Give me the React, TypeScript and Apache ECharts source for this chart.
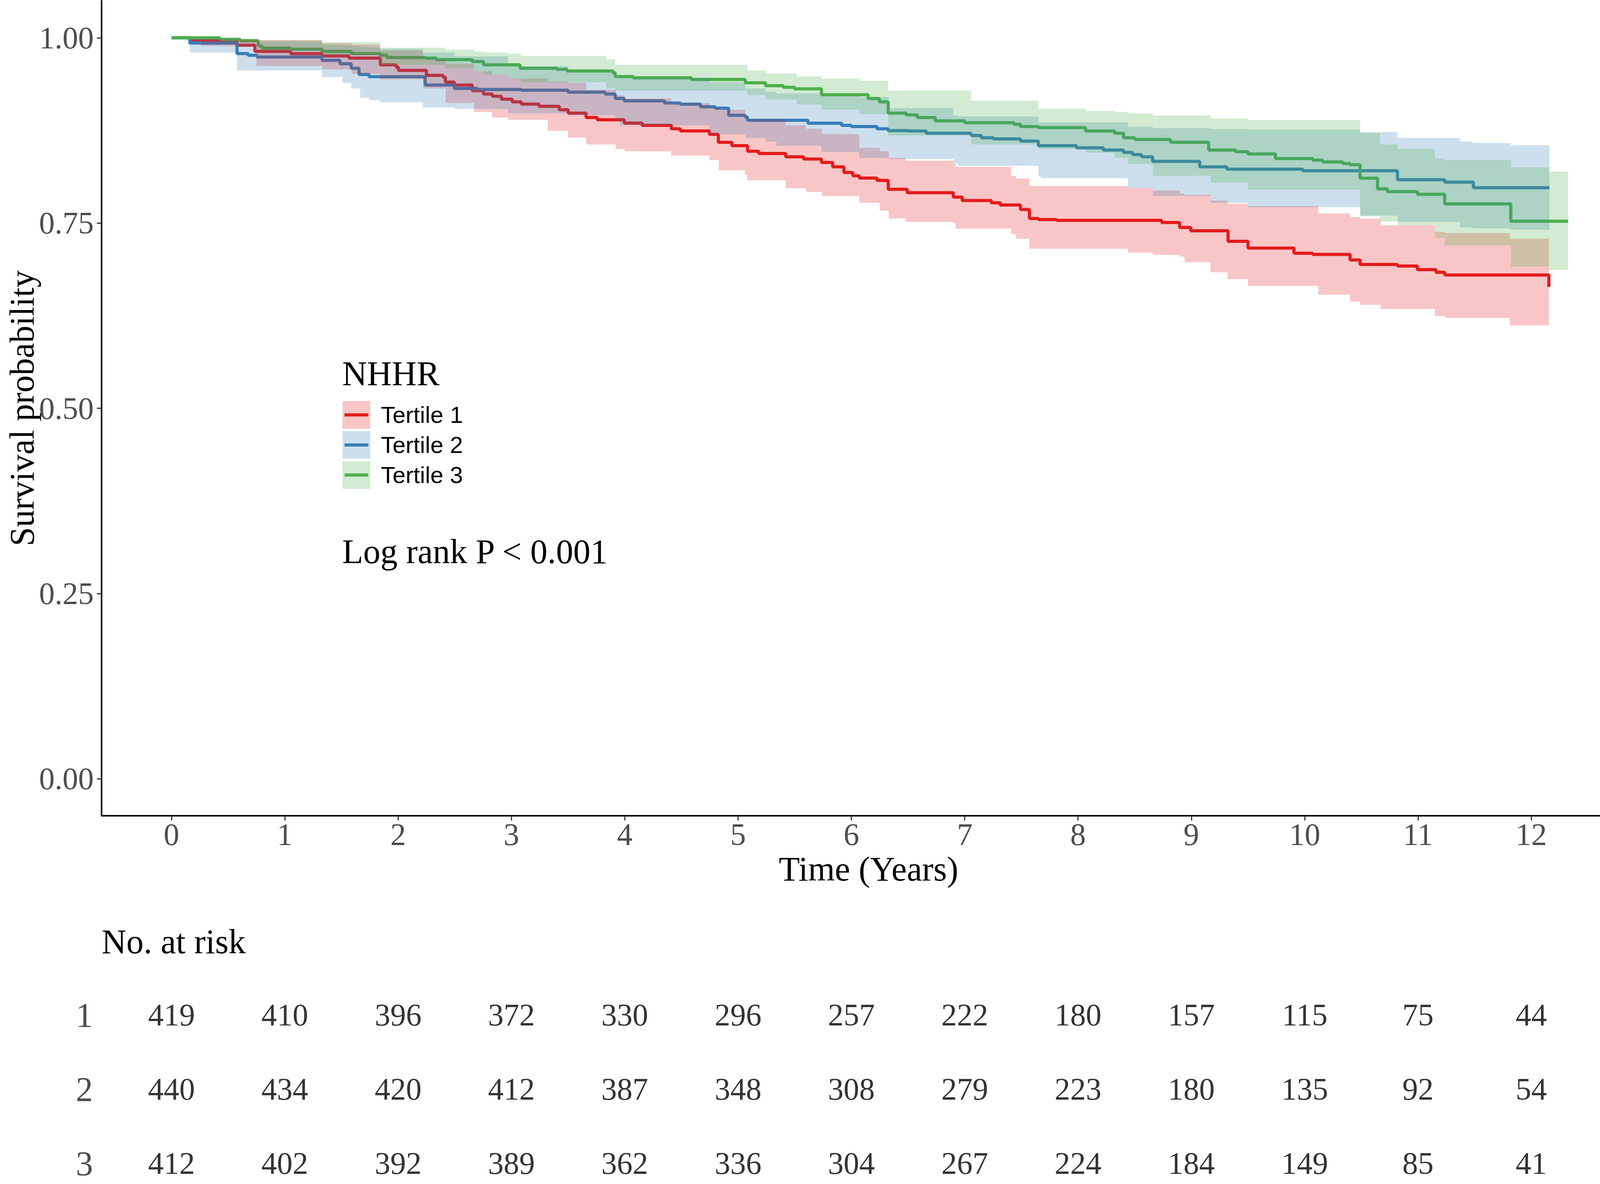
import React, { useEffect, useRef } from "react";
import * as echarts from "echarts";

// ---------- Kaplan-Meier step curves (time in years, survival probability) ----------
const redTimes = [0, 0.162, 0.578, 0.736, 1.052, 1.329, 1.566, 1.843, 1.982, 2.002, 2.25, 2.397, 2.417, 2.496, 2.654, 2.753, 2.832, 2.911, 3.007, 3.086, 3.244, 3.422, 3.501, 3.659, 3.758, 3.996, 4.154, 4.411, 4.49, 4.747, 4.826, 4.945, 5.083, 5.182, 5.42, 5.578, 5.736, 5.835, 5.934, 6.013, 6.07, 6.226, 6.325, 6.493, 6.899, 6.978, 7.235, 7.314, 7.492, 7.571, 7.65, 7.809, 8.738, 8.896, 8.995, 9.324, 9.5, 9.906, 10.071, 10.401, 10.489, 10.819, 10.995, 11.159, 11.236, 12.155];
const redSurv = [1, 0.996, 0.99, 0.9817, 0.9787, 0.9756, 0.9726, 0.9635, 0.9605, 0.956, 0.9493, 0.9469, 0.9402, 0.9363, 0.9287, 0.9242, 0.9211, 0.9172, 0.9136, 0.9106, 0.9075, 0.903, 0.8984, 0.8924, 0.8894, 0.8849, 0.8818, 0.8773, 0.8743, 0.8697, 0.859, 0.8545, 0.847, 0.8439, 0.8394, 0.8364, 0.8318, 0.8258, 0.8182, 0.8137, 0.8107, 0.8076, 0.7955, 0.791, 0.785, 0.7804, 0.7774, 0.7743, 0.7683, 0.7562, 0.7547, 0.7537, 0.7507, 0.7441, 0.7395, 0.7253, 0.7162, 0.7092, 0.7077, 0.7002, 0.6941, 0.692, 0.6871, 0.6835, 0.6799, 0.6638];

const blueTimes = [0, 0.162, 0.578, 0.676, 0.755, 1.329, 1.487, 1.586, 1.655, 1.744, 2.239, 2.496, 2.7, 3.086, 3.501, 3.827, 3.916, 3.996, 4.351, 4.49, 4.668, 4.8, 4.917, 5.064, 5.083, 5.617, 5.914, 6.0, 6.226, 6.325, 6.503, 6.661, 7.057, 7.146, 7.255, 7.492, 7.65, 7.987, 8.224, 8.402, 8.481, 8.56, 8.659, 9.074, 9.313, 9.983, 10.819, 11.236, 11.489, 12.16];
const blueSurv = [1, 0.9929, 0.9787, 0.9765, 0.9741, 0.9696, 0.965, 0.959, 0.9505, 0.9475, 0.9363, 0.9317, 0.9302, 0.9293, 0.9266, 0.9241, 0.9181, 0.915, 0.912, 0.9105, 0.9069, 0.9051, 0.8954, 0.893, 0.8887, 0.8848, 0.8818, 0.8803, 0.8772, 0.8748, 0.8742, 0.8712, 0.8682, 0.8651, 0.8636, 0.8606, 0.8545, 0.8515, 0.8485, 0.8454, 0.8424, 0.8394, 0.8333, 0.8258, 0.8227, 0.8206, 0.8085, 0.8052, 0.7976, 0.7976];

const greenTimes = [0, 0.429, 0.607, 0.765, 0.8, 1.052, 1.329, 1.586, 1.843, 1.903, 2.239, 2.338, 2.654, 2.753, 3.076, 3.402, 3.491, 3.897, 3.916, 4.075, 4.589, 5.064, 5.242, 5.4, 5.499, 5.736, 6.147, 6.246, 6.325, 6.483, 6.582, 6.74, 6.998, 7.433, 7.492, 7.65, 8.066, 8.323, 8.402, 8.501, 8.817, 9.153, 9.39, 9.5, 9.742, 10.071, 10.159, 10.335, 10.401, 10.489, 10.643, 10.731, 10.995, 11.236, 11.819, 12.325];
const greenSurv = [1, 0.998, 0.996, 0.9893, 0.9862, 0.9847, 0.9817, 0.9787, 0.9765, 0.9735, 0.9726, 0.9705, 0.968, 0.9635, 0.959, 0.9575, 0.9553, 0.9529, 0.9478, 0.946, 0.9438, 0.9393, 0.9354, 0.9332, 0.9311, 0.9232, 0.9181, 0.9136, 0.8984, 0.896, 0.8924, 0.8879, 0.8854, 0.8833, 0.8803, 0.8788, 0.8742, 0.8712, 0.8651, 0.8627, 0.8591, 0.8485, 0.8463, 0.8433, 0.837, 0.8349, 0.8324, 0.8303, 0.8288, 0.8106, 0.7961, 0.7924, 0.7888, 0.7758, 0.7525, 0.7525];

// ---------- 95% confidence bands ----------
const redBandTimes = [0, 0.26, 0.75, 1.33, 1.59, 1.84, 2.22, 2.42, 2.67, 2.83, 2.97, 3.32, 3.5, 3.66, 3.92, 4.0, 4.41, 4.75, 4.83, 5.06, 5.08, 5.42, 5.6, 5.74, 6.07, 6.25, 6.33, 6.48, 6.9, 6.92, 7.41, 7.45, 7.57, 8.44, 8.66, 8.9, 8.94, 9.17, 9.32, 9.5, 10.12, 10.4, 10.49, 10.67, 11.15, 11.24, 11.81, 12.155];
const redLower = [1, 0.989, 0.962, 0.9575, 0.9514, 0.9439, 0.9317, 0.912, 0.9, 0.8924, 0.8894, 0.8743, 0.8652, 0.8561, 0.85, 0.847, 0.8409, 0.8349, 0.8213, 0.815, 0.8076, 0.797, 0.792, 0.7864, 0.7774, 0.7668, 0.7562, 0.7516, 0.7501, 0.7425, 0.735, 0.7289, 0.7153, 0.71, 0.707, 0.7047, 0.6971, 0.6835, 0.6743, 0.6653, 0.6532, 0.6441, 0.6396, 0.634, 0.6244, 0.622, 0.612, 0.6063];
const redUpper = [1, 0.998, 0.997, 0.993, 0.991, 0.983, 0.971, 0.965, 0.955, 0.95, 0.9453, 0.941, 0.9393, 0.93, 0.9226, 0.9181, 0.912, 0.906, 0.903, 0.8924, 0.89, 0.882, 0.8772, 0.87, 0.8515, 0.847, 0.8379, 0.834, 0.8303, 0.8258, 0.8137, 0.81, 0.8, 0.797, 0.794, 0.79, 0.788, 0.7804, 0.776, 0.7727, 0.763, 0.758, 0.756, 0.747, 0.738, 0.7364, 0.7289, 0.7243];

const blueBandTimes = [0, 0.162, 0.578, 1.329, 1.507, 1.586, 1.665, 1.744, 1.843, 2.219, 2.496, 2.97, 3.501, 3.916, 3.956, 4.747, 5.064, 5.242, 5.34, 5.736, 6.07, 6.33, 6.9, 6.94, 7.65, 7.67, 8.44, 8.66, 9.17, 9.5, 10.49, 10.82, 11.37, 11.48, 11.82, 12.16];
const blueLower = [1, 0.98, 0.9559, 0.9469, 0.939, 0.9317, 0.919, 0.916, 0.913, 0.906, 0.904, 0.898, 0.8954, 0.888, 0.8818, 0.8697, 0.865, 0.86, 0.8545, 0.846, 0.8379, 0.8364, 0.8303, 0.8273, 0.8137, 0.8106, 0.797, 0.7864, 0.7773, 0.7713, 0.76, 0.7516, 0.744, 0.743, 0.741, 0.741];
const blueUpper = [1, 0.9988, 0.995, 0.991, 0.99, 0.989, 0.988, 0.987, 0.985, 0.98, 0.975, 0.9615, 0.955, 0.9468, 0.946, 0.94, 0.9317, 0.9272, 0.925, 0.922, 0.92, 0.905, 0.895, 0.894, 0.886, 0.886, 0.88, 0.878, 0.877, 0.876, 0.8728, 0.865, 0.86, 0.858, 0.855, 0.855];

const greenBandTimes = [0, 0.459, 0.765, 1.329, 1.843, 2.417, 2.674, 2.753, 2.97, 3.086, 3.837, 3.916, 5.083, 5.242, 5.518, 5.736, 6.07, 6.325, 7.057, 7.65, 8.07, 8.323, 8.44, 8.66, 9.17, 9.5, 10.49, 10.665, 10.82, 11.15, 11.236, 11.82, 12.155, 12.325];
const greenLower = [1, 0.9953, 0.9831, 0.9771, 0.9635, 0.9589, 0.955, 0.95, 0.945, 0.94, 0.932, 0.9287, 0.9226, 0.9166, 0.91, 0.9029, 0.8969, 0.8681, 0.856, 0.85, 0.845, 0.8379, 0.83, 0.8137, 0.8046, 0.795, 0.7591, 0.752, 0.747, 0.73, 0.7198, 0.6911, 0.6866, 0.6836];
const greenUpper = [1, 0.999, 0.9968, 0.994, 0.9868, 0.984, 0.9816, 0.98, 0.9786, 0.9756, 0.971, 0.9635, 0.9559, 0.952, 0.948, 0.945, 0.942, 0.9286, 0.915, 0.9044, 0.9014, 0.9, 0.898, 0.895, 0.891, 0.889, 0.8713, 0.8562, 0.85, 0.8375, 0.835, 0.8254, 0.8194, 0.8194];

// ---------- Axis ticks ----------
const xTicks = [0, 1, 2, 3, 4, 5, 6, 7, 8, 9, 10, 11, 12];
const yTicks = [0, 0.25, 0.5, 0.75, 1];

// ---------- Number at risk ----------
const riskTimes = [0, 1, 2, 3, 4, 5, 6, 7, 8, 9, 10, 11, 12];
const risk1 = [419, 410, 396, 372, 330, 296, 257, 222, 180, 157, 115, 75, 44];
const risk2 = [440, 434, 420, 412, 387, 348, 308, 279, 223, 180, 135, 92, 54];
const risk3 = [412, 402, 392, 389, 362, 336, 304, 267, 224, 184, 149, 85, 41];
const riskRows = ["1", "2", "3"];

const groupNames = ["Tertile 1", "Tertile 2", "Tertile 3"];
const lineColors = ["#E41A1C", "#377EB8", "#4DAF4A"];
const bandColors = ["rgba(228,26,28,0.25)", "rgba(55,126,184,0.25)", "rgba(77,175,74,0.25)"];

const SERIF = '"Liberation Serif", "Times New Roman", serif';
const SANS = '"Liberation Sans", Arial, sans-serif';

function pairs(t: number[], v: number[]) {
  return t.map((x, i) => [x, v[i]]);
}

function bandSeries(times: number[], lower: number[], upper: number[], fill: string) {
  return {
    type: "custom",
    xAxisIndex: 0,
    yAxisIndex: 0,
    silent: true,
    clip: true,
    z: 3,
    data: times.map((t, i) => [t, lower[i], upper[i]]),
    renderItem: (params: any, api: any) => {
      if (params.dataIndex !== 0) return null;
      const up: number[][] = [];
      const lo: number[][] = [];
      for (let i = 0; i < times.length; i++) {
        up.push(api.coord([times[i], upper[i]]));
        lo.push(api.coord([times[i], lower[i]]));
        if (i < times.length - 1) {
          up.push(api.coord([times[i + 1], upper[i]]));
          lo.push(api.coord([times[i + 1], lower[i]]));
        }
      }
      return {
        type: "polygon",
        shape: { points: up.concat(lo.reverse()) },
        style: { fill, stroke: null },
      };
    },
  };
}

function lineSeries(times: number[], surv: number[], color: string, name: string) {
  return {
    type: "line",
    name,
    step: "end",
    xAxisIndex: 0,
    yAxisIndex: 0,
    data: pairs(times, surv),
    showSymbol: false,
    symbol: "none",
    silent: true,
    z: 2,
    lineStyle: { color, width: 8 },
    itemStyle: { color },
  };
}

export default function App() {
  const ref = useRef<HTMLDivElement>(null);

  useEffect(() => {
    document.body.style.margin = "0";
    const chart = echarts.init(ref.current as HTMLDivElement, null, { renderer: "svg" });

    const riskData: any[] = [];
    [risk1, risk2, risk3].forEach((arr, r) => {
      arr.forEach((n, i) => riskData.push([riskTimes[i], riskRows[r], n]));
    });

    const legendGraphics: any[] = [
      {
        type: "text",
        x: 876,
        y: 956,
        style: { text: "NHHR", fontSize: 88, fontFamily: SERIF, fill: "#000", verticalAlign: "middle", align: "left" },
      },
    ];
    const keyTops = [1027, 1104, 1181];
    groupNames.forEach((g, i) => {
      const cy = keyTops[i] + 35.5;
      legendGraphics.push({
        type: "rect",
        shape: { x: 877, y: keyTops[i], width: 71, height: 71 },
        style: { fill: bandColors[i] },
      });
      legendGraphics.push({
        type: "line",
        shape: { x1: 882, y1: cy, x2: 943, y2: cy },
        style: { stroke: lineColors[i], lineWidth: 8 },
      });
      legendGraphics.push({
        type: "text",
        x: 975,
        y: cy,
        style: { text: g, fontSize: 60, fontFamily: SANS, fill: "#000", verticalAlign: "middle", align: "left" },
      });
    });

    const option: any = {
      animation: false,
      backgroundColor: "#ffffff",
      grid: [
        { left: 260, right: 13, top: 2, bottom: 943, containLabel: false, outerBoundsMode: "none" },
        { left: 260, right: 13, top: 2504, height: 570, containLabel: false, outerBoundsMode: "none" },
      ],
      xAxis: [
        {
          gridIndex: 0,
          type: "value",
          min: -0.617,
          max: 12.92,
          name: "Time (Years)",
          nameLocation: "middle",
          nameGap: 92,
          nameTextStyle: { fontSize: 88, fontFamily: SERIF, color: "#000" },
          axisLine: { show: true, onZero: false, lineStyle: { color: "#000", width: 4 } },
          axisTick: { show: true, length: 12, customValues: xTicks, lineStyle: { color: "#333333", width: 3 } },
          axisLabel: { customValues: xTicks, fontSize: 80, fontFamily: SERIF, color: "#4D4D4D", margin: 8 },
          splitLine: { show: false },
        },
        {
          gridIndex: 1,
          type: "value",
          min: -0.617,
          max: 12.92,
          show: false,
        },
      ],
      yAxis: [
        {
          gridIndex: 0,
          type: "value",
          min: -0.05,
          max: 1.05,
          name: "Survival probability",
          nameLocation: "middle",
          nameGap: 166,
          nameMoveOverlap: false,
          nameTextStyle: { fontSize: 88, lineHeight: 76, fontFamily: SERIF, color: "#000" },
          axisLine: { show: true, onZero: false, lineStyle: { color: "#000", width: 4 } },
          axisTick: { show: true, length: 12, customValues: yTicks, lineStyle: { color: "#333333", width: 3 } },
          axisLabel: {
            customValues: yTicks,
            formatter: (v: number) => v.toFixed(2),
            fontSize: 80,
            fontFamily: SERIF,
            color: "#4D4D4D",
            margin: 20,
          },
          splitLine: { show: false },
        },
        {
          gridIndex: 1,
          type: "category",
          data: riskRows,
          inverse: true,
          axisLine: { show: false },
          axisTick: { show: false },
          splitLine: { show: false },
          axisLabel: {
            fontSize: 88,
            lineHeight: 64,
            fontFamily: SERIF,
            color: "#4D4D4D",
            margin: 22,
          },
        },
      ],
      series: [
        lineSeries(redTimes, redSurv, lineColors[0], groupNames[0]),
        lineSeries(blueTimes, blueSurv, lineColors[1], groupNames[1]),
        lineSeries(greenTimes, greenSurv, lineColors[2], groupNames[2]),
        bandSeries(redBandTimes, redLower, redUpper, bandColors[0]),
        bandSeries(blueBandTimes, blueLower, blueUpper, bandColors[1]),
        bandSeries(greenBandTimes, greenLower, greenUpper, bandColors[2]),
        {
          type: "scatter",
          xAxisIndex: 1,
          yAxisIndex: 1,
          data: riskData,
          symbolSize: 1,
          silent: true,
          itemStyle: { color: "rgba(0,0,0,0)" },
          label: {
            show: true,
            position: "inside",
            formatter: (p: any) => String(p.value[2]),
            fontSize: 80,
            lineHeight: 62,
            fontFamily: SERIF,
            color: "#000",
          },
        },
      ],
      graphic: [
        ...legendGraphics,
        {
          type: "text",
          x: 876,
          y: 1412,
          style: { text: "Log rank P < 0.001", fontSize: 88, fontFamily: SERIF, fill: "#000", verticalAlign: "middle", align: "left" },
        },
        {
          type: "text",
          x: 260,
          y: 2411,
          style: { text: "No. at risk", fontSize: 88, fontFamily: SERIF, fill: "#000", verticalAlign: "middle", align: "left" },
        },
      ],
    };

    chart.setOption(option);
    return () => chart.dispose();
  }, []);

  return (
    <div
      ref={ref}
      style={{ position: "absolute", left: 0, top: 0, width: 4200, height: 3032, background: "#fff" }}
    />
  );
}
